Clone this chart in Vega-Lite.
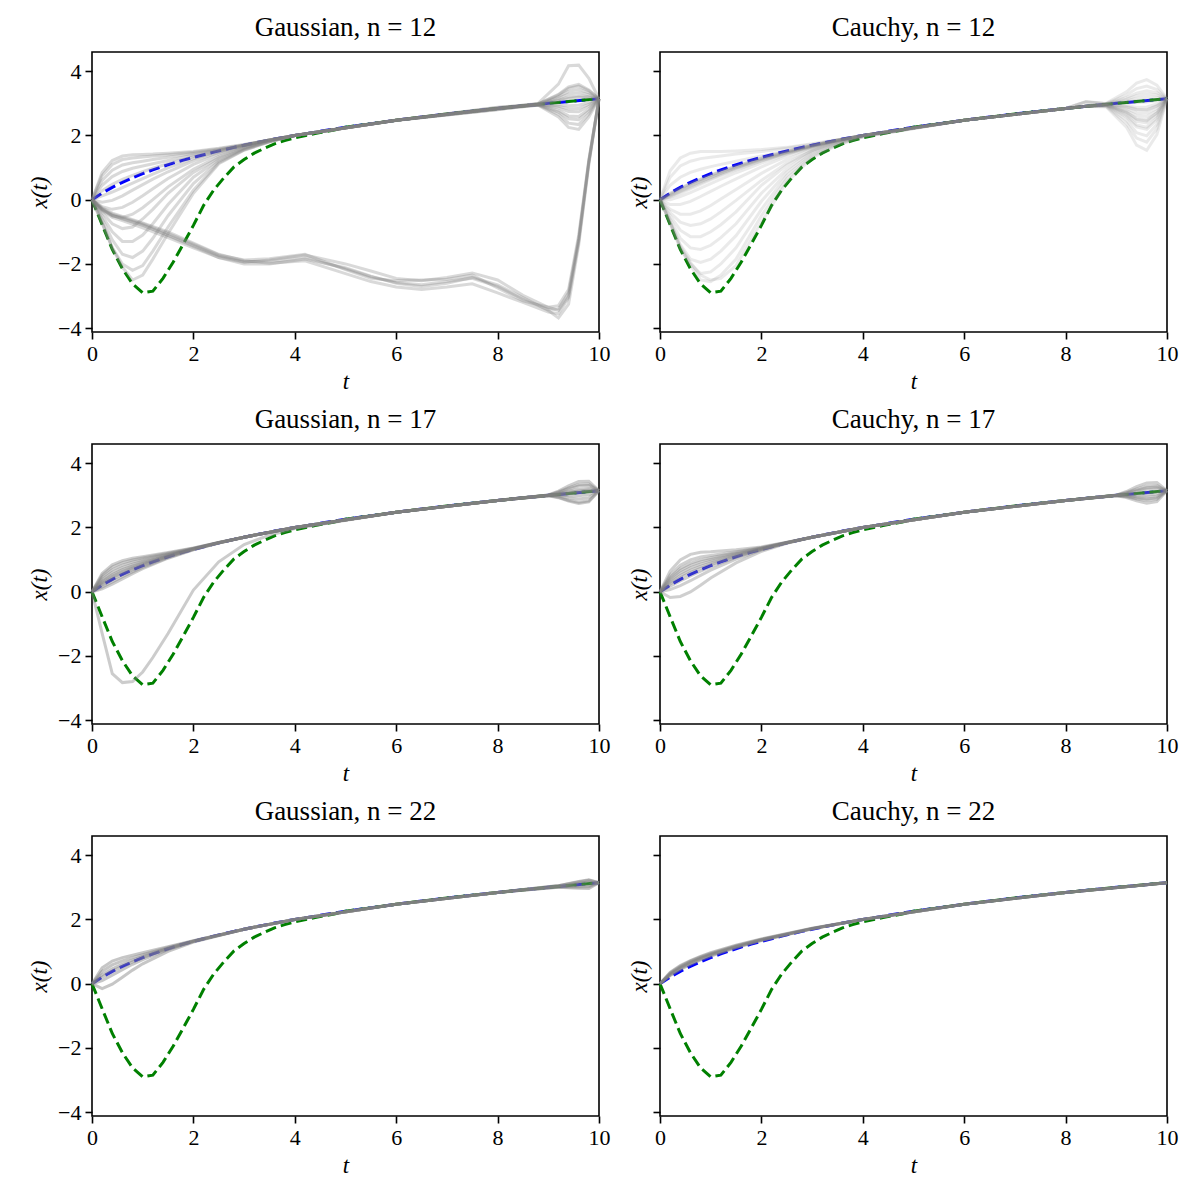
{
  "$schema": "https://vega.github.io/schema/vega-lite/v6.json",
  "padding": {"left": 27, "top": 13, "right": 10, "bottom": 10},
  "background": "white",
  "config": {
    "font": "Liberation Serif",
    "view": {"stroke": "black", "strokeWidth": 1.6},
    "axis": {"grid": false, "domain": false, "labelFont": "Liberation Serif", "labelFontSize": 22, "labelColor": "black", "labelFlush": false, "labelOverlap": false, "tickColor": "black", "tickSize": 7, "tickWidth": 1.6, "labelPadding": 4, "titleFont": "Liberation Serif", "titleFontSize": 23, "titleFontWeight": "normal", "titleFontStyle": "italic", "titleColor": "black", "titlePadding": 6},
    "title": {"font": "Liberation Serif", "fontSize": 27, "fontWeight": "normal", "color": "black", "baseline": "alphabetic", "offset": 10}
  },
  "datasets": {
    "ref": [
      {"c":"b","t":0,"x":0},{"c":"b","t":0.2,"x":0.206},{"c":"b","t":0.4,"x":0.385},{"c":"b","t":0.6,"x":0.542},{"c":"b","t":0.8,"x":0.683},{"c":"b","t":1,"x":0.811},{"c":"b","t":1.2,"x":0.928},{"c":"b","t":1.4,"x":1.037},{"c":"b","t":1.6,"x":1.138},{"c":"b","t":1.8,"x":1.232},{"c":"b","t":2,"x":1.32},{"c":"b","t":2.4,"x":1.483},{"c":"b","t":2.8,"x":1.63},{"c":"b","t":3.2,"x":1.764},{"c":"b","t":3.6,"x":1.888},{"c":"b","t":4,"x":2.001},{"c":"b","t":5,"x":2.256},{"c":"b","t":6,"x":2.476},{"c":"b","t":7,"x":2.67},{"c":"b","t":8,"x":2.843},{"c":"b","t":9,"x":3.001},{"c":"b","t":10,"x":3.145},
      {"c":"g","t":0,"x":0},{"c":"g","t":0.2,"x":-0.78},{"c":"g","t":0.4,"x":-1.55},{"c":"g","t":0.6,"x":-2.15},{"c":"g","t":0.8,"x":-2.62},{"c":"g","t":1,"x":-2.9},{"c":"g","t":1.2,"x":-2.85},{"c":"g","t":1.4,"x":-2.45},{"c":"g","t":1.6,"x":-1.95},{"c":"g","t":1.8,"x":-1.38},{"c":"g","t":2,"x":-0.8},{"c":"g","t":2.2,"x":-0.18},{"c":"g","t":2.4,"x":0.3},{"c":"g","t":2.6,"x":0.68},{"c":"g","t":2.8,"x":1.02},{"c":"g","t":3,"x":1.25},{"c":"g","t":3.2,"x":1.45},{"c":"g","t":3.4,"x":1.6},{"c":"g","t":3.6,"x":1.74},{"c":"g","t":3.8,"x":1.84},{"c":"g","t":4,"x":1.93},{"c":"g","t":4.4,"x":2.06},{"c":"g","t":4.8,"x":2.18},{"c":"g","t":5,"x":2.256},{"c":"g","t":6,"x":2.476},{"c":"g","t":7,"x":2.67},{"c":"g","t":8,"x":2.843},{"c":"g","t":9,"x":3.001},{"c":"g","t":10,"x":3.145}
    ],
    "A": [
      {"s":1,"t":0,"x":0},{"s":1,"t":0.2,"x":0.85},{"s":1,"t":0.4,"x":1.22},{"s":1,"t":0.6,"x":1.36},{"s":1,"t":0.8,"x":1.4},{"s":1,"t":1,"x":1.41},{"s":1,"t":1.2,"x":1.42},{"s":1,"t":1.5,"x":1.45},{"s":1,"t":2,"x":1.5},{"s":1,"t":2.5,"x":1.6},{"s":1,"t":3,"x":1.72},{"s":1,"t":3.5,"x":1.86},{"s":1,"t":4,"x":2.0},{"s":1,"t":6,"x":2.48},{"s":1,"t":8,"x":2.86},{"s":1,"t":8.8,"x":3.0},{"s":1,"t":9.2,"x":3.6},{"s":1,"t":9.4,"x":4.17},{"s":1,"t":9.6,"x":4.19},{"s":1,"t":9.8,"x":3.78},{"s":1,"t":10,"x":3.145},
      {"s":2,"t":0,"x":0},{"s":2,"t":0.2,"x":0.75},{"s":2,"t":0.4,"x":1.1},{"s":2,"t":0.6,"x":1.25},{"s":2,"t":0.8,"x":1.3},{"s":2,"t":1,"x":1.33},{"s":2,"t":1.2,"x":1.36},{"s":2,"t":1.5,"x":1.4},{"s":2,"t":2,"x":1.48},{"s":2,"t":2.5,"x":1.58},{"s":2,"t":3,"x":1.71},{"s":2,"t":3.5,"x":1.86},{"s":2,"t":4,"x":2.0},{"s":2,"t":6,"x":2.47},{"s":2,"t":8,"x":2.82},{"s":2,"t":8.8,"x":2.94},{"s":2,"t":9.2,"x":2.58},{"s":2,"t":9.4,"x":2.25},{"s":2,"t":9.6,"x":2.19},{"s":2,"t":9.8,"x":2.58},{"s":2,"t":10,"x":3.145},
      {"s":3,"t":0,"x":0},{"s":3,"t":0.2,"x":0.6},{"s":3,"t":0.4,"x":0.92},{"s":3,"t":0.6,"x":1.08},{"s":3,"t":0.8,"x":1.15},{"s":3,"t":1,"x":1.2},{"s":3,"t":1.2,"x":1.25},{"s":3,"t":1.5,"x":1.32},{"s":3,"t":2,"x":1.44},{"s":3,"t":2.5,"x":1.56},{"s":3,"t":3,"x":1.7},{"s":3,"t":3.5,"x":1.86},{"s":3,"t":4,"x":2.0},{"s":3,"t":6,"x":2.476},{"s":3,"t":8,"x":2.8},{"s":3,"t":8.8,"x":2.985},{"s":3,"t":9.2,"x":3.26},{"s":3,"t":9.4,"x":3.465},{"s":3,"t":9.6,"x":3.54},{"s":3,"t":9.8,"x":3.39},{"s":3,"t":10,"x":3.145},
      {"s":4,"t":0,"x":0},{"s":4,"t":0.2,"x":0.45},{"s":4,"t":0.4,"x":0.72},{"s":4,"t":0.6,"x":0.88},{"s":4,"t":0.8,"x":0.98},{"s":4,"t":1,"x":1.05},{"s":4,"t":1.2,"x":1.12},{"s":4,"t":1.5,"x":1.22},{"s":4,"t":2,"x":1.39},{"s":4,"t":2.5,"x":1.54},{"s":4,"t":3,"x":1.7},{"s":4,"t":3.5,"x":1.86},{"s":4,"t":4,"x":2.0},{"s":4,"t":6,"x":2.476},{"s":4,"t":8,"x":2.843},{"s":4,"t":8.8,"x":2.955},{"s":4,"t":9.2,"x":2.78},{"s":4,"t":9.4,"x":2.61},{"s":4,"t":9.6,"x":2.59},{"s":4,"t":9.8,"x":2.82},{"s":4,"t":10,"x":3.145},
      {"s":5,"t":0,"x":0},{"s":5,"t":0.2,"x":0.28},{"s":5,"t":0.4,"x":0.48},{"s":5,"t":0.6,"x":0.63},{"s":5,"t":0.8,"x":0.76},{"s":5,"t":1,"x":0.87},{"s":5,"t":1.2,"x":0.98},{"s":5,"t":1.5,"x":1.12},{"s":5,"t":2,"x":1.34},{"s":5,"t":2.5,"x":1.52},{"s":5,"t":3,"x":1.7},{"s":5,"t":3.5,"x":1.86},{"s":5,"t":4,"x":2.0},{"s":5,"t":6,"x":2.476},{"s":5,"t":8,"x":2.88},{"s":5,"t":8.8,"x":2.98},{"s":5,"t":9.2,"x":3.16},{"s":5,"t":9.4,"x":3.285},{"s":5,"t":9.6,"x":3.34},{"s":5,"t":9.8,"x":3.27},{"s":5,"t":10,"x":3.145},
      {"s":6,"t":0,"x":0},{"s":6,"t":0.2,"x":0.12},{"s":6,"t":0.4,"x":0.24},{"s":6,"t":0.6,"x":0.38},{"s":6,"t":0.8,"x":0.52},{"s":6,"t":1,"x":0.66},{"s":6,"t":1.2,"x":0.8},{"s":6,"t":1.5,"x":0.99},{"s":6,"t":2,"x":1.28},{"s":6,"t":2.5,"x":1.5},{"s":6,"t":3,"x":1.69},{"s":6,"t":3.5,"x":1.86},{"s":6,"t":4,"x":2.0},{"s":6,"t":6,"x":2.476},{"s":6,"t":8,"x":2.843},{"s":6,"t":8.8,"x":2.96},{"s":6,"t":9.2,"x":2.91},{"s":6,"t":9.4,"x":2.835},{"s":6,"t":9.6,"x":2.84},{"s":6,"t":9.8,"x":2.97},{"s":6,"t":10,"x":3.145},
      {"s":7,"t":0,"x":0},{"s":7,"t":0.2,"x":-0.08},{"s":7,"t":0.4,"x":-0.02},{"s":7,"t":0.6,"x":0.12},{"s":7,"t":0.8,"x":0.3},{"s":7,"t":1,"x":0.47},{"s":7,"t":1.2,"x":0.64},{"s":7,"t":1.5,"x":0.87},{"s":7,"t":2,"x":1.21},{"s":7,"t":2.5,"x":1.47},{"s":7,"t":3,"x":1.68},{"s":7,"t":3.5,"x":1.85},{"s":7,"t":4,"x":2.0},{"s":7,"t":6,"x":2.476},{"s":7,"t":8,"x":2.843},{"s":7,"t":8.8,"x":2.975},{"s":7,"t":9.2,"x":3.11},{"s":7,"t":9.4,"x":3.195},{"s":7,"t":9.6,"x":3.24},{"s":7,"t":9.8,"x":3.21},{"s":7,"t":10,"x":3.145},
      {"s":8,"t":0,"x":0},{"s":8,"t":0.2,"x":-0.22},{"s":8,"t":0.4,"x":-0.3},{"s":8,"t":0.6,"x":-0.24},{"s":8,"t":0.8,"x":-0.08},{"s":8,"t":1,"x":0.12},{"s":8,"t":1.2,"x":0.34},{"s":8,"t":1.5,"x":0.66},{"s":8,"t":2,"x":1.1},{"s":8,"t":2.5,"x":1.42},{"s":8,"t":3,"x":1.66},{"s":8,"t":3.5,"x":1.85},{"s":8,"t":4,"x":2.0},{"s":8,"t":6,"x":2.476},{"s":8,"t":8,"x":2.81},{"s":8,"t":8.8,"x":2.95},{"s":8,"t":9.2,"x":2.73},{"s":8,"t":9.4,"x":2.52},{"s":8,"t":9.6,"x":2.49},{"s":8,"t":9.8,"x":2.76},{"s":8,"t":10,"x":3.145},
      {"s":9,"t":0,"x":0},{"s":9,"t":0.2,"x":-0.3},{"s":9,"t":0.4,"x":-0.5},{"s":9,"t":0.6,"x":-0.55},{"s":9,"t":0.8,"x":-0.45},{"s":9,"t":1,"x":-0.25},{"s":9,"t":1.2,"x":0.0},{"s":9,"t":1.5,"x":0.4},{"s":9,"t":2,"x":0.95},{"s":9,"t":2.5,"x":1.35},{"s":9,"t":3,"x":1.63},{"s":9,"t":3.5,"x":1.84},{"s":9,"t":4,"x":2.0},{"s":9,"t":6,"x":2.476},{"s":9,"t":8,"x":2.843},{"s":9,"t":8.8,"x":2.98},{"s":9,"t":9.2,"x":3.21},{"s":9,"t":9.4,"x":3.375},{"s":9,"t":9.6,"x":3.44},{"s":9,"t":9.8,"x":3.33},{"s":9,"t":10,"x":3.145},
      {"s":10,"t":0,"x":0},{"s":10,"t":0.2,"x":-0.4},{"s":10,"t":0.4,"x":-0.75},{"s":10,"t":0.6,"x":-0.9},{"s":10,"t":0.8,"x":-0.85},{"s":10,"t":1,"x":-0.6},{"s":10,"t":1.2,"x":-0.3},{"s":10,"t":1.5,"x":0.2},{"s":10,"t":2,"x":0.85},{"s":10,"t":2.5,"x":1.3},{"s":10,"t":3,"x":1.61},{"s":10,"t":3.5,"x":1.83},{"s":10,"t":4,"x":2.0},{"s":10,"t":6,"x":2.476},{"s":10,"t":8,"x":2.87},{"s":10,"t":8.8,"x":2.95},{"s":10,"t":9.2,"x":2.66},{"s":10,"t":9.4,"x":2.385},{"s":10,"t":9.6,"x":2.34},{"s":10,"t":9.8,"x":2.67},{"s":10,"t":10,"x":3.145},
      {"s":11,"t":0,"x":0},{"s":11,"t":0.2,"x":-0.5},{"s":11,"t":0.4,"x":-1.0},{"s":11,"t":0.6,"x":-1.3},{"s":11,"t":0.8,"x":-1.3},{"s":11,"t":1,"x":-1.1},{"s":11,"t":1.2,"x":-0.75},{"s":11,"t":1.5,"x":-0.15},{"s":11,"t":2,"x":0.7},{"s":11,"t":2.5,"x":1.25},{"s":11,"t":3,"x":1.59},{"s":11,"t":3.5,"x":1.82},{"s":11,"t":4,"x":2.0},{"s":11,"t":6,"x":2.476},{"s":11,"t":8,"x":2.843},{"s":11,"t":8.8,"x":2.974},{"s":11,"t":9.2,"x":3.08},{"s":11,"t":9.4,"x":3.15},{"s":11,"t":9.6,"x":3.19},{"s":11,"t":9.8,"x":3.18},{"s":11,"t":10,"x":3.145},
      {"s":12,"t":0,"x":0},{"s":12,"t":0.2,"x":-0.6},{"s":12,"t":0.4,"x":-1.25},{"s":12,"t":0.6,"x":-1.7},{"s":12,"t":0.8,"x":-1.8},{"s":12,"t":1,"x":-1.6},{"s":12,"t":1.2,"x":-1.2},{"s":12,"t":1.5,"x":-0.5},{"s":12,"t":2,"x":0.5},{"s":12,"t":2.5,"x":1.2},{"s":12,"t":3,"x":1.57},{"s":12,"t":3.5,"x":1.81},{"s":12,"t":4,"x":2.0},{"s":12,"t":6,"x":2.476},{"s":12,"t":8,"x":2.843},{"s":12,"t":8.8,"x":2.96},{"s":12,"t":9.2,"x":2.86},{"s":12,"t":9.4,"x":2.745},{"s":12,"t":9.6,"x":2.74},{"s":12,"t":9.8,"x":2.91},{"s":12,"t":10,"x":3.145},
      {"s":13,"t":0,"x":0},{"s":13,"t":0.2,"x":-0.7},{"s":13,"t":0.4,"x":-1.5},{"s":13,"t":0.6,"x":-2.0},{"s":13,"t":0.8,"x":-2.2},{"s":13,"t":1,"x":-2.05},{"s":13,"t":1.2,"x":-1.6},{"s":13,"t":1.5,"x":-0.85},{"s":13,"t":2,"x":0.3},{"s":13,"t":2.5,"x":1.15},{"s":13,"t":3,"x":1.55},{"s":13,"t":3.5,"x":1.8},{"s":13,"t":4,"x":2.0},{"s":13,"t":6,"x":2.476},{"s":13,"t":8,"x":2.843},{"s":13,"t":8.8,"x":2.986},{"s":13,"t":9.2,"x":3.28},{"s":13,"t":9.4,"x":3.51},{"s":13,"t":9.6,"x":3.59},{"s":13,"t":9.8,"x":3.42},{"s":13,"t":10,"x":3.145},
      {"s":14,"t":0,"x":0},{"s":14,"t":0.2,"x":-0.75},{"s":14,"t":0.4,"x":-1.5},{"s":14,"t":0.6,"x":-2.1},{"s":14,"t":0.8,"x":-2.5},{"s":14,"t":1,"x":-2.35},{"s":14,"t":1.2,"x":-1.85},{"s":14,"t":1.5,"x":-1.05},{"s":14,"t":2,"x":0.2},{"s":14,"t":2.5,"x":1.12},{"s":14,"t":3,"x":1.54},{"s":14,"t":3.5,"x":1.8},{"s":14,"t":4,"x":2.0},{"s":14,"t":6,"x":2.476},{"s":14,"t":8,"x":2.843},{"s":14,"t":8.8,"x":2.967},{"s":14,"t":9.2,"x":2.96},{"s":14,"t":9.4,"x":2.925},{"s":14,"t":9.6,"x":2.94},{"s":14,"t":9.8,"x":3.03},{"s":14,"t":10,"x":3.145},
      {"s":21,"t":0,"x":0},{"s":21,"t":0.2,"x":-0.3},{"s":21,"t":0.4,"x":-0.48},{"s":21,"t":0.6,"x":-0.6},{"s":21,"t":1,"x":-0.8},{"s":21,"t":1.5,"x":-1.1},{"s":21,"t":2,"x":-1.42},{"s":21,"t":2.5,"x":-1.75},{"s":21,"t":3,"x":-1.93},{"s":21,"t":3.5,"x":-1.92},{"s":21,"t":4.2,"x":-1.8},{"s":21,"t":5,"x":-2.15},{"s":21,"t":5.5,"x":-2.4},{"s":21,"t":6,"x":-2.58},{"s":21,"t":6.5,"x":-2.65},{"s":21,"t":7,"x":-2.55},{"s":21,"t":7.5,"x":-2.45},{"s":21,"t":8,"x":-2.7},{"s":21,"t":8.5,"x":-3.1},{"s":21,"t":9,"x":-3.42},{"s":21,"t":9.2,"x":-3.4},{"s":21,"t":9.4,"x":-2.9},{"s":21,"t":9.6,"x":-1.2},{"s":21,"t":9.8,"x":1.2},{"s":21,"t":10,"x":3.145},
      {"s":22,"t":0,"x":0},{"s":22,"t":0.2,"x":-0.35},{"s":22,"t":0.4,"x":-0.55},{"s":22,"t":0.6,"x":-0.65},{"s":22,"t":1,"x":-0.88},{"s":22,"t":1.5,"x":-1.18},{"s":22,"t":2,"x":-1.5},{"s":22,"t":2.5,"x":-1.8},{"s":22,"t":3,"x":-1.95},{"s":22,"t":3.5,"x":-1.88},{"s":22,"t":4.2,"x":-1.72},{"s":22,"t":5,"x":-2.0},{"s":22,"t":5.5,"x":-2.22},{"s":22,"t":6,"x":-2.45},{"s":22,"t":6.5,"x":-2.52},{"s":22,"t":7,"x":-2.42},{"s":22,"t":7.5,"x":-2.28},{"s":22,"t":8,"x":-2.5},{"s":22,"t":8.5,"x":-2.98},{"s":22,"t":9,"x":-3.35},{"s":22,"t":9.2,"x":-3.45},{"s":22,"t":9.4,"x":-3.0},{"s":22,"t":9.6,"x":-1.3},{"s":22,"t":9.8,"x":1.15},{"s":22,"t":10,"x":3.145},
      {"s":23,"t":0,"x":0},{"s":23,"t":0.2,"x":-0.25},{"s":23,"t":0.4,"x":-0.42},{"s":23,"t":0.6,"x":-0.52},{"s":23,"t":1,"x":-0.72},{"s":23,"t":1.5,"x":-1.0},{"s":23,"t":2,"x":-1.35},{"s":23,"t":2.5,"x":-1.7},{"s":23,"t":3,"x":-1.9},{"s":23,"t":3.5,"x":-1.98},{"s":23,"t":4.2,"x":-1.9},{"s":23,"t":5,"x":-2.3},{"s":23,"t":5.5,"x":-2.55},{"s":23,"t":6,"x":-2.72},{"s":23,"t":6.5,"x":-2.8},{"s":23,"t":7,"x":-2.72},{"s":23,"t":7.5,"x":-2.62},{"s":23,"t":8,"x":-2.9},{"s":23,"t":8.5,"x":-3.2},{"s":23,"t":9,"x":-3.5},{"s":23,"t":9.2,"x":-3.55},{"s":23,"t":9.4,"x":-3.05},{"s":23,"t":9.6,"x":-1.25},{"s":23,"t":9.8,"x":1.2},{"s":23,"t":10,"x":3.145},
      {"s":24,"t":0,"x":0},{"s":24,"t":0.2,"x":-0.32},{"s":24,"t":0.4,"x":-0.5},{"s":24,"t":0.6,"x":-0.58},{"s":24,"t":1,"x":-0.78},{"s":24,"t":1.5,"x":-1.12},{"s":24,"t":2,"x":-1.45},{"s":24,"t":2.5,"x":-1.8},{"s":24,"t":3,"x":-2.0},{"s":24,"t":3.5,"x":-2.0},{"s":24,"t":4.2,"x":-1.85},{"s":24,"t":5,"x":-2.12},{"s":24,"t":5.5,"x":-2.38},{"s":24,"t":6,"x":-2.6},{"s":24,"t":6.5,"x":-2.7},{"s":24,"t":7,"x":-2.6},{"s":24,"t":7.5,"x":-2.42},{"s":24,"t":8,"x":-2.65},{"s":24,"t":8.5,"x":-3.05},{"s":24,"t":9,"x":-3.45},{"s":24,"t":9.2,"x":-3.68},{"s":24,"t":9.4,"x":-3.25},{"s":24,"t":9.6,"x":-1.4},{"s":24,"t":9.8,"x":1.1},{"s":24,"t":10,"x":3.145},
      {"s":25,"t":0,"x":0},{"s":25,"t":0.2,"x":-0.28},{"s":25,"t":0.4,"x":-0.45},{"s":25,"t":0.6,"x":-0.55},{"s":25,"t":1,"x":-0.75},{"s":25,"t":1.5,"x":-1.05},{"s":25,"t":2,"x":-1.38},{"s":25,"t":2.5,"x":-1.72},{"s":25,"t":3,"x":-1.88},{"s":25,"t":3.5,"x":-1.84},{"s":25,"t":4.2,"x":-1.7},{"s":25,"t":5,"x":-2.18},{"s":25,"t":5.5,"x":-2.45},{"s":25,"t":6,"x":-2.52},{"s":25,"t":6.5,"x":-2.5},{"s":25,"t":7,"x":-2.48},{"s":25,"t":7.5,"x":-2.35},{"s":25,"t":8,"x":-2.75},{"s":25,"t":8.5,"x":-3.15},{"s":25,"t":9,"x":-3.35},{"s":25,"t":9.2,"x":-3.3},{"s":25,"t":9.4,"x":-2.8},{"s":25,"t":9.6,"x":-1.1},{"s":25,"t":9.8,"x":1.25},{"s":25,"t":10,"x":3.145}
    ],
    "B": [
      {"s":1,"t":0,"x":0},{"s":1,"t":0.2,"x":0.9},{"s":1,"t":0.4,"x":1.3},{"s":1,"t":0.6,"x":1.45},{"s":1,"t":0.8,"x":1.5},{"s":1,"t":1,"x":1.5},{"s":1,"t":1.2,"x":1.5},{"s":1,"t":1.5,"x":1.52},{"s":1,"t":2,"x":1.56},{"s":1,"t":2.5,"x":1.63},{"s":1,"t":3,"x":1.74},{"s":1,"t":3.5,"x":1.87},{"s":1,"t":4,"x":2.0},{"s":1,"t":6,"x":2.476},{"s":1,"t":8,"x":2.843},{"s":1,"t":8.4,"x":3.06},{"s":1,"t":8.8,"x":3.0},{"s":1,"t":9.2,"x":3.36},{"s":1,"t":9.4,"x":3.63},{"s":1,"t":9.6,"x":3.74},{"s":1,"t":9.8,"x":3.57},{"s":1,"t":10,"x":3.145},
      {"s":2,"t":0,"x":0},{"s":2,"t":0.2,"x":0.7},{"s":2,"t":0.4,"x":1.05},{"s":2,"t":0.6,"x":1.2},{"s":2,"t":0.8,"x":1.28},{"s":2,"t":1,"x":1.32},{"s":2,"t":1.2,"x":1.36},{"s":2,"t":1.5,"x":1.42},{"s":2,"t":2,"x":1.5},{"s":2,"t":2.5,"x":1.6},{"s":2,"t":3,"x":1.72},{"s":2,"t":3.5,"x":1.86},{"s":2,"t":4,"x":2.0},{"s":2,"t":6,"x":2.476},{"s":2,"t":8,"x":2.843},{"s":2,"t":8.4,"x":2.909},{"s":2,"t":8.8,"x":2.89},{"s":2,"t":9.2,"x":2.26},{"s":2,"t":9.4,"x":1.7},{"s":2,"t":9.6,"x":1.54},{"s":2,"t":9.8,"x":2.03},{"s":2,"t":10,"x":3.145},
      {"s":3,"t":0,"x":0},{"s":3,"t":0.2,"x":0.45},{"s":3,"t":0.4,"x":0.7},{"s":3,"t":0.6,"x":0.85},{"s":3,"t":0.8,"x":0.95},{"s":3,"t":1,"x":1.03},{"s":3,"t":1.2,"x":1.1},{"s":3,"t":1.5,"x":1.2},{"s":3,"t":2,"x":1.36},{"s":3,"t":2.5,"x":1.52},{"s":3,"t":3,"x":1.69},{"s":3,"t":3.5,"x":1.85},{"s":3,"t":4,"x":2.0},{"s":3,"t":6,"x":2.476},{"s":3,"t":8,"x":2.843},{"s":3,"t":8.4,"x":3.05},{"s":3,"t":8.8,"x":2.99},{"s":3,"t":9.2,"x":3.18},{"s":3,"t":9.4,"x":3.32},{"s":3,"t":9.6,"x":3.39},{"s":3,"t":9.8,"x":3.33},{"s":3,"t":10,"x":3.145},
      {"s":4,"t":0,"x":0},{"s":4,"t":0.2,"x":0.2},{"s":4,"t":0.4,"x":0.36},{"s":4,"t":0.6,"x":0.5},{"s":4,"t":0.8,"x":0.63},{"s":4,"t":1,"x":0.75},{"s":4,"t":1.2,"x":0.87},{"s":4,"t":1.5,"x":1.03},{"s":4,"t":2,"x":1.27},{"s":4,"t":2.5,"x":1.48},{"s":4,"t":3,"x":1.67},{"s":4,"t":3.5,"x":1.85},{"s":4,"t":4,"x":2.0},{"s":4,"t":6,"x":2.476},{"s":4,"t":8,"x":2.843},{"s":4,"t":8.4,"x":2.909},{"s":4,"t":8.8,"x":2.93},{"s":4,"t":9.2,"x":2.58},{"s":4,"t":9.4,"x":2.27},{"s":4,"t":9.6,"x":2.19},{"s":4,"t":9.8,"x":2.49},{"s":4,"t":10,"x":3.145},
      {"s":5,"t":0,"x":0},{"s":5,"t":0.2,"x":0.15},{"s":5,"t":0.4,"x":0.3},{"s":5,"t":0.6,"x":0.44},{"s":5,"t":0.8,"x":0.57},{"s":5,"t":1,"x":0.7},{"s":5,"t":1.2,"x":0.82},{"s":5,"t":1.5,"x":0.99},{"s":5,"t":2,"x":1.24},{"s":5,"t":2.5,"x":1.46},{"s":5,"t":3,"x":1.66},{"s":5,"t":3.5,"x":1.84},{"s":5,"t":4,"x":2.0},{"s":5,"t":6,"x":2.476},{"s":5,"t":8,"x":2.843},{"s":5,"t":8.4,"x":2.909},{"s":5,"t":8.8,"x":2.95},{"s":5,"t":9.2,"x":2.78},{"s":5,"t":9.4,"x":2.62},{"s":5,"t":9.6,"x":2.59},{"s":5,"t":9.8,"x":2.77},{"s":5,"t":10,"x":3.145},
      {"s":6,"t":0,"x":0},{"s":6,"t":0.2,"x":0.1},{"s":6,"t":0.4,"x":0.24},{"s":6,"t":0.6,"x":0.38},{"s":6,"t":0.8,"x":0.52},{"s":6,"t":1,"x":0.65},{"s":6,"t":1.2,"x":0.78},{"s":6,"t":1.5,"x":0.96},{"s":6,"t":2,"x":1.22},{"s":6,"t":2.5,"x":1.45},{"s":6,"t":3,"x":1.66},{"s":6,"t":3.5,"x":1.84},{"s":6,"t":4,"x":2.0},{"s":6,"t":6,"x":2.476},{"s":6,"t":8,"x":2.843},{"s":6,"t":8.4,"x":2.909},{"s":6,"t":8.8,"x":2.98},{"s":6,"t":9.2,"x":3.08},{"s":6,"t":9.4,"x":3.15},{"s":6,"t":9.6,"x":3.19},{"s":6,"t":9.8,"x":3.19},{"s":6,"t":10,"x":3.145},
      {"s":7,"t":0,"x":0},{"s":7,"t":0.2,"x":0.0},{"s":7,"t":0.4,"x":0.1},{"s":7,"t":0.6,"x":0.22},{"s":7,"t":0.8,"x":0.36},{"s":7,"t":1,"x":0.5},{"s":7,"t":1.2,"x":0.64},{"s":7,"t":1.5,"x":0.84},{"s":7,"t":2,"x":1.14},{"s":7,"t":2.5,"x":1.41},{"s":7,"t":3,"x":1.64},{"s":7,"t":3.5,"x":1.84},{"s":7,"t":4,"x":2.0},{"s":7,"t":6,"x":2.476},{"s":7,"t":8,"x":2.843},{"s":7,"t":8.4,"x":2.909},{"s":7,"t":8.8,"x":2.92},{"s":7,"t":9.2,"x":2.48},{"s":7,"t":9.4,"x":2.09},{"s":7,"t":9.6,"x":1.99},{"s":7,"t":9.8,"x":2.35},{"s":7,"t":10,"x":3.145},
      {"s":8,"t":0,"x":0},{"s":8,"t":0.2,"x":-0.15},{"s":8,"t":0.4,"x":-0.15},{"s":8,"t":0.6,"x":-0.05},{"s":8,"t":0.8,"x":0.1},{"s":8,"t":1,"x":0.26},{"s":8,"t":1.2,"x":0.42},{"s":8,"t":1.5,"x":0.65},{"s":8,"t":2,"x":1.02},{"s":8,"t":2.5,"x":1.35},{"s":8,"t":3,"x":1.62},{"s":8,"t":3.5,"x":1.83},{"s":8,"t":4,"x":2.0},{"s":8,"t":6,"x":2.476},{"s":8,"t":8,"x":2.843},{"s":8,"t":8.4,"x":2.909},{"s":8,"t":8.8,"x":2.96},{"s":8,"t":9.2,"x":2.88},{"s":8,"t":9.4,"x":2.8},{"s":8,"t":9.6,"x":2.79},{"s":8,"t":9.8,"x":2.91},{"s":8,"t":10,"x":3.145},
      {"s":9,"t":0,"x":0},{"s":9,"t":0.2,"x":-0.3},{"s":9,"t":0.4,"x":-0.45},{"s":9,"t":0.6,"x":-0.45},{"s":9,"t":0.8,"x":-0.35},{"s":9,"t":1,"x":-0.18},{"s":9,"t":1.2,"x":0.02},{"s":9,"t":1.5,"x":0.32},{"s":9,"t":2,"x":0.82},{"s":9,"t":2.5,"x":1.25},{"s":9,"t":3,"x":1.58},{"s":9,"t":3.5,"x":1.82},{"s":9,"t":4,"x":2.0},{"s":9,"t":6,"x":2.476},{"s":9,"t":8,"x":2.843},{"s":9,"t":8.4,"x":3.04},{"s":9,"t":8.8,"x":2.99},{"s":9,"t":9.2,"x":3.26},{"s":9,"t":9.4,"x":3.46},{"s":9,"t":9.6,"x":3.54},{"s":9,"t":9.8,"x":3.43},{"s":9,"t":10,"x":3.145},
      {"s":10,"t":0,"x":0},{"s":10,"t":0.2,"x":-0.4},{"s":10,"t":0.4,"x":-0.7},{"s":10,"t":0.6,"x":-0.8},{"s":10,"t":0.8,"x":-0.75},{"s":10,"t":1,"x":-0.6},{"s":10,"t":1.2,"x":-0.38},{"s":10,"t":1.5,"x":-0.02},{"s":10,"t":2,"x":0.6},{"s":10,"t":2.5,"x":1.14},{"s":10,"t":3,"x":1.53},{"s":10,"t":3.5,"x":1.8},{"s":10,"t":4,"x":2.0},{"s":10,"t":6,"x":2.476},{"s":10,"t":8,"x":2.843},{"s":10,"t":8.4,"x":2.909},{"s":10,"t":8.8,"x":2.94},{"s":10,"t":9.2,"x":2.68},{"s":10,"t":9.4,"x":2.44},{"s":10,"t":9.6,"x":2.39},{"s":10,"t":9.8,"x":2.63},{"s":10,"t":10,"x":3.145},
      {"s":11,"t":0,"x":0},{"s":11,"t":0.2,"x":-0.5},{"s":11,"t":0.4,"x":-0.95},{"s":11,"t":0.6,"x":-1.15},{"s":11,"t":0.8,"x":-1.15},{"s":11,"t":1,"x":-1.0},{"s":11,"t":1.2,"x":-0.78},{"s":11,"t":1.5,"x":-0.38},{"s":11,"t":2,"x":0.45},{"s":11,"t":2.5,"x":1.07},{"s":11,"t":3,"x":1.54},{"s":11,"t":3.5,"x":1.8},{"s":11,"t":4,"x":2.0},{"s":11,"t":6,"x":2.476},{"s":11,"t":8,"x":2.843},{"s":11,"t":8.4,"x":2.909},{"s":11,"t":8.8,"x":2.96},{"s":11,"t":9.2,"x":2.93},{"s":11,"t":9.4,"x":2.88},{"s":11,"t":9.6,"x":2.89},{"s":11,"t":9.8,"x":2.98},{"s":11,"t":10,"x":3.145},
      {"s":12,"t":0,"x":0},{"s":12,"t":0.2,"x":-0.6},{"s":12,"t":0.4,"x":-1.2},{"s":12,"t":0.6,"x":-1.5},{"s":12,"t":0.8,"x":-1.55},{"s":12,"t":1,"x":-1.42},{"s":12,"t":1.2,"x":-1.18},{"s":12,"t":1.5,"x":-0.75},{"s":12,"t":2,"x":0.2},{"s":12,"t":2.5,"x":0.95},{"s":12,"t":3,"x":1.5},{"s":12,"t":3.5,"x":1.78},{"s":12,"t":4,"x":1.99},{"s":12,"t":6,"x":2.476},{"s":12,"t":8,"x":2.843},{"s":12,"t":8.4,"x":2.909},{"s":12,"t":8.8,"x":2.91},{"s":12,"t":9.2,"x":2.38},{"s":12,"t":9.4,"x":1.92},{"s":12,"t":9.6,"x":1.79},{"s":12,"t":9.8,"x":2.21},{"s":12,"t":10,"x":3.145},
      {"s":13,"t":0,"x":0},{"s":13,"t":0.2,"x":-0.68},{"s":13,"t":0.4,"x":-1.4},{"s":13,"t":0.6,"x":-1.85},{"s":13,"t":0.8,"x":-1.95},{"s":13,"t":1,"x":-1.85},{"s":13,"t":1.2,"x":-1.6},{"s":13,"t":1.5,"x":-1.12},{"s":13,"t":2,"x":-0.05},{"s":13,"t":2.5,"x":0.85},{"s":13,"t":3,"x":1.45},{"s":13,"t":3.5,"x":1.76},{"s":13,"t":4,"x":1.98},{"s":13,"t":6,"x":2.476},{"s":13,"t":8,"x":2.843},{"s":13,"t":8.4,"x":2.909},{"s":13,"t":8.8,"x":2.98},{"s":13,"t":9.2,"x":3.13},{"s":13,"t":9.4,"x":3.24},{"s":13,"t":9.6,"x":3.29},{"s":13,"t":9.8,"x":3.26},{"s":13,"t":10,"x":3.145},
      {"s":14,"t":0,"x":0},{"s":14,"t":0.2,"x":-0.74},{"s":14,"t":0.4,"x":-1.52},{"s":14,"t":0.6,"x":-2.0},{"s":14,"t":0.8,"x":-2.3},{"s":14,"t":1,"x":-2.25},{"s":14,"t":1.2,"x":-2.0},{"s":14,"t":1.5,"x":-1.5},{"s":14,"t":2,"x":-0.3},{"s":14,"t":2.5,"x":0.75},{"s":14,"t":3,"x":1.4},{"s":14,"t":3.5,"x":1.74},{"s":14,"t":4,"x":1.97},{"s":14,"t":6,"x":2.476},{"s":14,"t":8,"x":2.843},{"s":14,"t":8.4,"x":2.909},{"s":14,"t":8.8,"x":2.94},{"s":14,"t":9.2,"x":2.73},{"s":14,"t":9.4,"x":2.53},{"s":14,"t":9.6,"x":2.49},{"s":14,"t":9.8,"x":2.7},{"s":14,"t":10,"x":3.145},
      {"s":15,"t":0,"x":0},{"s":15,"t":0.2,"x":-0.74},{"s":15,"t":0.4,"x":-1.5},{"s":15,"t":0.6,"x":-2.05},{"s":15,"t":0.8,"x":-2.5},{"s":15,"t":1,"x":-2.55},{"s":15,"t":1.2,"x":-2.35},{"s":15,"t":1.5,"x":-1.85},{"s":15,"t":2,"x":-0.5},{"s":15,"t":2.5,"x":0.65},{"s":15,"t":3,"x":1.35},{"s":15,"t":3.5,"x":1.72},{"s":15,"t":4,"x":1.96},{"s":15,"t":6,"x":2.476},{"s":15,"t":8,"x":2.843},{"s":15,"t":8.4,"x":2.909},{"s":15,"t":8.8,"x":2.97},{"s":15,"t":9.2,"x":3.01},{"s":15,"t":9.4,"x":3.02},{"s":15,"t":9.6,"x":3.04},{"s":15,"t":9.8,"x":3.08},{"s":15,"t":10,"x":3.145},
      {"s":16,"t":0,"x":0},{"s":16,"t":0.2,"x":-0.7},{"s":16,"t":0.4,"x":-1.45},{"s":16,"t":0.6,"x":-1.95},{"s":16,"t":0.8,"x":-2.35},{"s":16,"t":1,"x":-2.5},{"s":16,"t":1.2,"x":-2.45},{"s":16,"t":1.5,"x":-2.05},{"s":16,"t":2,"x":-0.7},{"s":16,"t":2.5,"x":0.55},{"s":16,"t":3,"x":1.3},{"s":16,"t":3.5,"x":1.7},{"s":16,"t":4,"x":1.95},{"s":16,"t":6,"x":2.476},{"s":16,"t":8,"x":2.843},{"s":16,"t":8.4,"x":2.909},{"s":16,"t":8.8,"x":2.95},{"s":16,"t":9.2,"x":2.83},{"s":16,"t":9.4,"x":2.71},{"s":16,"t":9.6,"x":2.69},{"s":16,"t":9.8,"x":2.84},{"s":16,"t":10,"x":3.145},
      {"s":17,"t":0,"x":0},{"s":17,"t":0.2,"x":0.17},{"s":17,"t":0.4,"x":0.33},{"s":17,"t":0.6,"x":0.48},{"s":17,"t":0.8,"x":0.62},{"s":17,"t":1,"x":0.75},{"s":17,"t":1.2,"x":0.87},{"s":17,"t":1.5,"x":1.04},{"s":17,"t":2,"x":1.29},{"s":17,"t":2.5,"x":1.5},{"s":17,"t":3,"x":1.69},{"s":17,"t":3.5,"x":1.85},{"s":17,"t":4,"x":2.0},{"s":17,"t":6,"x":2.476},{"s":17,"t":8,"x":2.843},{"s":17,"t":8.4,"x":2.909},{"s":17,"t":8.8,"x":2.97},{"s":17,"t":9.2,"x":2.9},{"s":17,"t":9.4,"x":2.82},{"s":17,"t":9.6,"x":2.8},{"s":17,"t":9.8,"x":2.93},{"s":17,"t":10,"x":3.145},
      {"s":18,"t":0,"x":0},{"s":18,"t":0.2,"x":0.12},{"s":18,"t":0.4,"x":0.27},{"s":18,"t":0.6,"x":0.42},{"s":18,"t":0.8,"x":0.56},{"s":18,"t":1,"x":0.69},{"s":18,"t":1.2,"x":0.82},{"s":18,"t":1.5,"x":1.0},{"s":18,"t":2,"x":1.26},{"s":18,"t":2.5,"x":1.48},{"s":18,"t":3,"x":1.68},{"s":18,"t":3.5,"x":1.85},{"s":18,"t":4,"x":2.0},{"s":18,"t":6,"x":2.476},{"s":18,"t":8,"x":2.843},{"s":18,"t":8.4,"x":2.909},{"s":18,"t":8.8,"x":2.96},{"s":18,"t":9.2,"x":2.72},{"s":18,"t":9.4,"x":2.5},{"s":18,"t":9.6,"x":2.45},{"s":18,"t":9.8,"x":2.7},{"s":18,"t":10,"x":3.145},
      {"s":19,"t":0,"x":0},{"s":19,"t":0.2,"x":0.19},{"s":19,"t":0.4,"x":0.35},{"s":19,"t":0.6,"x":0.5},{"s":19,"t":0.8,"x":0.64},{"s":19,"t":1,"x":0.77},{"s":19,"t":1.2,"x":0.89},{"s":19,"t":1.5,"x":1.05},{"s":19,"t":2,"x":1.3},{"s":19,"t":2.5,"x":1.51},{"s":19,"t":3,"x":1.69},{"s":19,"t":3.5,"x":1.86},{"s":19,"t":4,"x":2.0},{"s":19,"t":6,"x":2.476},{"s":19,"t":8,"x":2.843},{"s":19,"t":8.4,"x":2.909},{"s":19,"t":8.8,"x":2.98},{"s":19,"t":9.2,"x":3.04},{"s":19,"t":9.4,"x":3.08},{"s":19,"t":9.6,"x":3.1},{"s":19,"t":9.8,"x":3.12},{"s":19,"t":10,"x":3.145},
      {"s":20,"t":0,"x":0},{"s":20,"t":0.2,"x":0.08},{"s":20,"t":0.4,"x":0.2},{"s":20,"t":0.6,"x":0.34},{"s":20,"t":0.8,"x":0.48},{"s":20,"t":1,"x":0.62},{"s":20,"t":1.2,"x":0.75},{"s":20,"t":1.5,"x":0.93},{"s":20,"t":2,"x":1.2},{"s":20,"t":2.5,"x":1.44},{"s":20,"t":3,"x":1.65},{"s":20,"t":3.5,"x":1.84},{"s":20,"t":4,"x":2.0},{"s":20,"t":6,"x":2.476},{"s":20,"t":8,"x":2.843},{"s":20,"t":8.4,"x":2.909},{"s":20,"t":8.8,"x":2.95},{"s":20,"t":9.2,"x":2.62},{"s":20,"t":9.4,"x":2.33},{"s":20,"t":9.6,"x":2.26},{"s":20,"t":9.8,"x":2.55},{"s":20,"t":10,"x":3.145}
    ],
    "C": [
      {"s":1,"t":0,"x":0},{"s":1,"t":0.2,"x":0.566},{"s":1,"t":0.4,"x":0.835},{"s":1,"t":0.6,"x":0.97},{"s":1,"t":0.8,"x":1.043},{"s":1,"t":1,"x":1.09},{"s":1,"t":1.5,"x":1.223},{"s":1,"t":2,"x":1.365},{"s":1,"t":2.5,"x":1.535},{"s":1,"t":3,"x":1.698},{"s":1,"t":4,"x":2.001},{"s":1,"t":6,"x":2.476},{"s":1,"t":8,"x":2.843},{"s":1,"t":9,"x":3.004},{"s":1,"t":9.2,"x":3.061},{"s":1,"t":9.4,"x":3.13},{"s":1,"t":9.6,"x":3.189},{"s":1,"t":9.8,"x":3.213},{"s":1,"t":10,"x":3.145},
      {"s":2,"t":0,"x":0},{"s":2,"t":0.2,"x":0.51},{"s":2,"t":0.4,"x":0.765},{"s":2,"t":0.6,"x":0.903},{"s":2,"t":0.8,"x":0.987},{"s":2,"t":1,"x":1.047},{"s":2,"t":1.5,"x":1.202},{"s":2,"t":2,"x":1.358},{"s":2,"t":2.5,"x":1.532},{"s":2,"t":3,"x":1.698},{"s":2,"t":4,"x":2.001},{"s":2,"t":6,"x":2.476},{"s":2,"t":8,"x":2.843},{"s":2,"t":9,"x":2.992},{"s":2,"t":9.2,"x":2.941},{"s":2,"t":9.4,"x":2.85},{"s":2,"t":9.6,"x":2.789},{"s":2,"t":9.8,"x":2.833},{"s":2,"t":10,"x":3.145},
      {"s":3,"t":0,"x":0},{"s":3,"t":0.2,"x":0.446},{"s":3,"t":0.4,"x":0.685},{"s":3,"t":0.6,"x":0.827},{"s":3,"t":0.8,"x":0.923},{"s":3,"t":1,"x":0.997},{"s":3,"t":1.5,"x":1.178},{"s":3,"t":2,"x":1.35},{"s":3,"t":2.5,"x":1.53},{"s":3,"t":3,"x":1.698},{"s":3,"t":4,"x":2.001},{"s":3,"t":6,"x":2.476},{"s":3,"t":8,"x":2.843},{"s":3,"t":9,"x":3.011},{"s":3,"t":9.2,"x":3.133},{"s":3,"t":9.4,"x":3.298},{"s":3,"t":9.6,"x":3.429},{"s":3,"t":9.8,"x":3.441},{"s":3,"t":10,"x":3.145},
      {"s":4,"t":0,"x":0},{"s":4,"t":0.2,"x":0.382},{"s":4,"t":0.4,"x":0.605},{"s":4,"t":0.6,"x":0.751},{"s":4,"t":0.8,"x":0.859},{"s":4,"t":1,"x":0.947},{"s":4,"t":1.5,"x":1.154},{"s":4,"t":2,"x":1.342},{"s":4,"t":2.5,"x":1.528},{"s":4,"t":3,"x":1.698},{"s":4,"t":4,"x":2.001},{"s":4,"t":6,"x":2.476},{"s":4,"t":8,"x":2.843},{"s":4,"t":9,"x":2.998},{"s":4,"t":9.2,"x":3.001},{"s":4,"t":9.4,"x":2.99},{"s":4,"t":9.6,"x":2.989},{"s":4,"t":9.8,"x":3.023},{"s":4,"t":10,"x":3.145},
      {"s":5,"t":0,"x":0},{"s":5,"t":0.2,"x":0.326},{"s":5,"t":0.4,"x":0.535},{"s":5,"t":0.6,"x":0.685},{"s":5,"t":0.8,"x":0.803},{"s":5,"t":1,"x":0.904},{"s":5,"t":1.5,"x":1.133},{"s":5,"t":2,"x":1.335},{"s":5,"t":2.5,"x":1.526},{"s":5,"t":3,"x":1.698},{"s":5,"t":4,"x":2.001},{"s":5,"t":6,"x":2.476},{"s":5,"t":8,"x":2.843},{"s":5,"t":9,"x":3.007},{"s":5,"t":9.2,"x":3.091},{"s":5,"t":9.4,"x":3.2},{"s":5,"t":9.6,"x":3.289},{"s":5,"t":9.8,"x":3.308},{"s":5,"t":10,"x":3.145},
      {"s":6,"t":0,"x":0},{"s":6,"t":0.2,"x":0.286},{"s":6,"t":0.4,"x":0.485},{"s":6,"t":0.6,"x":0.637},{"s":6,"t":0.8,"x":0.763},{"s":6,"t":1,"x":0.873},{"s":6,"t":1.5,"x":1.118},{"s":6,"t":2,"x":1.33},{"s":6,"t":2.5,"x":1.524},{"s":6,"t":3,"x":1.698},{"s":6,"t":4,"x":2.001},{"s":6,"t":6,"x":2.476},{"s":6,"t":8,"x":2.843},{"s":6,"t":9,"x":2.995},{"s":6,"t":9.2,"x":2.971},{"s":6,"t":9.4,"x":2.92},{"s":6,"t":9.6,"x":2.889},{"s":6,"t":9.8,"x":2.928},{"s":6,"t":10,"x":3.145},
      {"s":7,"t":0,"x":0},{"s":7,"t":0.2,"x":0.246},{"s":7,"t":0.4,"x":0.435},{"s":7,"t":0.6,"x":0.59},{"s":7,"t":0.8,"x":0.723},{"s":7,"t":1,"x":0.842},{"s":7,"t":1.5,"x":1.103},{"s":7,"t":2,"x":1.325},{"s":7,"t":2.5,"x":1.522},{"s":7,"t":3,"x":1.698},{"s":7,"t":4,"x":2.001},{"s":7,"t":6,"x":2.476},{"s":7,"t":8,"x":2.843},{"s":7,"t":9,"x":3.003},{"s":7,"t":9.2,"x":3.046},{"s":7,"t":9.4,"x":3.095},{"s":7,"t":9.6,"x":3.139},{"s":7,"t":9.8,"x":3.166},{"s":7,"t":10,"x":3.145},
      {"s":8,"t":0,"x":0},{"s":8,"t":0.2,"x":0.206},{"s":8,"t":0.4,"x":0.385},{"s":8,"t":0.6,"x":0.542},{"s":8,"t":0.8,"x":0.683},{"s":8,"t":1,"x":0.811},{"s":8,"t":1.5,"x":1.088},{"s":8,"t":2,"x":1.32},{"s":8,"t":2.5,"x":1.521},{"s":8,"t":3,"x":1.698},{"s":8,"t":4,"x":2.001},{"s":8,"t":6,"x":2.476},{"s":8,"t":8,"x":2.843},{"s":8,"t":9,"x":2.991},{"s":8,"t":9.2,"x":2.929},{"s":8,"t":9.4,"x":2.822},{"s":8,"t":9.6,"x":2.749},{"s":8,"t":9.8,"x":2.795},{"s":8,"t":10,"x":3.145},
      {"s":9,"t":0,"x":0},{"s":9,"t":0.2,"x":0.142},{"s":9,"t":0.4,"x":0.305},{"s":9,"t":0.6,"x":0.466},{"s":9,"t":0.8,"x":0.619},{"s":9,"t":1,"x":0.761},{"s":9,"t":1.5,"x":1.064},{"s":9,"t":2,"x":1.312},{"s":9,"t":2.5,"x":1.519},{"s":9,"t":3,"x":1.698},{"s":9,"t":4,"x":2.001},{"s":9,"t":6,"x":2.476},{"s":9,"t":8,"x":2.843},{"s":9,"t":9,"x":3.009},{"s":9,"t":9.2,"x":3.106},{"s":9,"t":9.4,"x":3.235},{"s":9,"t":9.6,"x":3.339},{"s":9,"t":9.8,"x":3.356},{"s":9,"t":10,"x":3.145},
      {"s":10,"t":0,"x":0},{"s":10,"t":0.2,"x":0.086},{"s":10,"t":0.4,"x":0.235},{"s":10,"t":0.6,"x":0.399},{"s":10,"t":0.8,"x":0.563},{"s":10,"t":1,"x":0.718},{"s":10,"t":1.5,"x":1.043},{"s":10,"t":2,"x":1.305},{"s":10,"t":2.5,"x":1.517},{"s":10,"t":3,"x":1.698},{"s":10,"t":4,"x":2.001},{"s":10,"t":6,"x":2.476},{"s":10,"t":8,"x":2.843},{"s":10,"t":9,"x":3.001},{"s":10,"t":9.2,"x":3.031},{"s":10,"t":9.4,"x":3.06},{"s":10,"t":9.6,"x":3.089},{"s":10,"t":9.8,"x":3.118},{"s":10,"t":10,"x":3.145},
      {"s":11,"t":0,"x":0},{"s":11,"t":0.2,"x":-1.3},{"s":11,"t":0.4,"x":-2.55},{"s":11,"t":0.6,"x":-2.83},{"s":11,"t":0.8,"x":-2.8},{"s":11,"t":1,"x":-2.5},{"s":11,"t":1.2,"x":-2.05},{"s":11,"t":1.5,"x":-1.3},{"s":11,"t":2,"x":0.05},{"s":11,"t":2.5,"x":0.93},{"s":11,"t":3,"x":1.47},{"s":11,"t":3.5,"x":1.76},{"s":11,"t":4,"x":1.97},{"s":11,"t":6,"x":2.476},{"s":11,"t":8,"x":2.843},{"s":11,"t":10,"x":3.145}
    ],
    "D": [
      {"s":1,"t":0,"x":0},{"s":1,"t":0.2,"x":0.64},{"s":1,"t":0.4,"x":0.986},{"s":1,"t":0.6,"x":1.162},{"s":1,"t":0.8,"x":1.229},{"s":1,"t":1,"x":1.245},{"s":1,"t":1.5,"x":1.305},{"s":1,"t":2,"x":1.394},{"s":1,"t":2.5,"x":1.54},{"s":1,"t":3,"x":1.698},{"s":1,"t":4,"x":2.001},{"s":1,"t":6,"x":2.476},{"s":1,"t":8,"x":2.843},{"s":1,"t":9,"x":3.01},{"s":1,"t":9.2,"x":3.121},{"s":1,"t":9.4,"x":3.27},{"s":1,"t":9.6,"x":3.389},{"s":1,"t":9.8,"x":3.403},{"s":1,"t":10,"x":3.145},
      {"s":2,"t":0,"x":0},{"s":2,"t":0.2,"x":0.521},{"s":2,"t":0.4,"x":0.822},{"s":2,"t":0.6,"x":0.992},{"s":2,"t":0.8,"x":1.079},{"s":2,"t":1,"x":1.126},{"s":2,"t":1.5,"x":1.246},{"s":2,"t":2,"x":1.374},{"s":2,"t":2.5,"x":1.535},{"s":2,"t":3,"x":1.698},{"s":2,"t":4,"x":2.001},{"s":2,"t":6,"x":2.476},{"s":2,"t":8,"x":2.843},{"s":2,"t":9,"x":2.993},{"s":2,"t":9.2,"x":2.956},{"s":2,"t":9.4,"x":2.885},{"s":2,"t":9.6,"x":2.839},{"s":2,"t":9.8,"x":2.88},{"s":2,"t":10,"x":3.145},
      {"s":3,"t":0,"x":0},{"s":3,"t":0.2,"x":0.451},{"s":3,"t":0.4,"x":0.725},{"s":3,"t":0.6,"x":0.892},{"s":3,"t":0.8,"x":0.991},{"s":3,"t":1,"x":1.056},{"s":3,"t":1.5,"x":1.211},{"s":3,"t":2,"x":1.362},{"s":3,"t":2.5,"x":1.532},{"s":3,"t":3,"x":1.698},{"s":3,"t":4,"x":2.001},{"s":3,"t":6,"x":2.476},{"s":3,"t":8,"x":2.843},{"s":3,"t":9,"x":3.004},{"s":3,"t":9.2,"x":3.061},{"s":3,"t":9.4,"x":3.13},{"s":3,"t":9.6,"x":3.189},{"s":3,"t":9.8,"x":3.213},{"s":3,"t":10,"x":3.145},
      {"s":4,"t":0,"x":0},{"s":4,"t":0.2,"x":0.402},{"s":4,"t":0.4,"x":0.657},{"s":4,"t":0.6,"x":0.822},{"s":4,"t":0.8,"x":0.929},{"s":4,"t":1,"x":1.007},{"s":4,"t":1.5,"x":1.186},{"s":4,"t":2,"x":1.354},{"s":4,"t":2.5,"x":1.529},{"s":4,"t":3,"x":1.698},{"s":4,"t":4,"x":2.001},{"s":4,"t":6,"x":2.476},{"s":4,"t":8,"x":2.843},{"s":4,"t":9,"x":2.997},{"s":4,"t":9.2,"x":2.986},{"s":4,"t":9.4,"x":2.955},{"s":4,"t":9.6,"x":2.939},{"s":4,"t":9.8,"x":2.975},{"s":4,"t":10,"x":3.145},
      {"s":5,"t":0,"x":0},{"s":5,"t":0.2,"x":0.346},{"s":5,"t":0.4,"x":0.579},{"s":5,"t":0.6,"x":0.742},{"s":5,"t":0.8,"x":0.859},{"s":5,"t":1,"x":0.951},{"s":5,"t":1.5,"x":1.158},{"s":5,"t":2,"x":1.344},{"s":5,"t":2.5,"x":1.527},{"s":5,"t":3,"x":1.698},{"s":5,"t":4,"x":2.001},{"s":5,"t":6,"x":2.476},{"s":5,"t":8,"x":2.843},{"s":5,"t":9,"x":3.007},{"s":5,"t":9.2,"x":3.091},{"s":5,"t":9.4,"x":3.2},{"s":5,"t":9.6,"x":3.289},{"s":5,"t":9.8,"x":3.308},{"s":5,"t":10,"x":3.145},
      {"s":6,"t":0,"x":0},{"s":6,"t":0.2,"x":0.29},{"s":6,"t":0.4,"x":0.501},{"s":6,"t":0.6,"x":0.662},{"s":6,"t":0.8,"x":0.789},{"s":6,"t":1,"x":0.895},{"s":6,"t":1.5,"x":1.13},{"s":6,"t":2,"x":1.334},{"s":6,"t":2.5,"x":1.525},{"s":6,"t":3,"x":1.698},{"s":6,"t":4,"x":2.001},{"s":6,"t":6,"x":2.476},{"s":6,"t":8,"x":2.843},{"s":6,"t":9,"x":2.991},{"s":6,"t":9.2,"x":2.932},{"s":6,"t":9.4,"x":2.829},{"s":6,"t":9.6,"x":2.759},{"s":6,"t":9.8,"x":2.804},{"s":6,"t":10,"x":3.145},
      {"s":7,"t":0,"x":0},{"s":7,"t":0.2,"x":0.241},{"s":7,"t":0.4,"x":0.434},{"s":7,"t":0.6,"x":0.592},{"s":7,"t":0.8,"x":0.727},{"s":7,"t":1,"x":0.846},{"s":7,"t":1.5,"x":1.106},{"s":7,"t":2,"x":1.326},{"s":7,"t":2.5,"x":1.523},{"s":7,"t":3,"x":1.698},{"s":7,"t":4,"x":2.001},{"s":7,"t":6,"x":2.476},{"s":7,"t":8,"x":2.843},{"s":7,"t":9,"x":3.001},{"s":7,"t":9.2,"x":3.031},{"s":7,"t":9.4,"x":3.06},{"s":7,"t":9.6,"x":3.089},{"s":7,"t":9.8,"x":3.118},{"s":7,"t":10,"x":3.145},
      {"s":8,"t":0,"x":0},{"s":8,"t":0.2,"x":0.171},{"s":8,"t":0.4,"x":0.336},{"s":8,"t":0.6,"x":0.492},{"s":8,"t":0.8,"x":0.639},{"s":8,"t":1,"x":0.776},{"s":8,"t":1.5,"x":1.071},{"s":8,"t":2,"x":1.314},{"s":8,"t":2.5,"x":1.52},{"s":8,"t":3,"x":1.698},{"s":8,"t":4,"x":2.001},{"s":8,"t":6,"x":2.476},{"s":8,"t":8,"x":2.843},{"s":8,"t":9,"x":2.999},{"s":8,"t":9.2,"x":3.007},{"s":8,"t":9.4,"x":3.004},{"s":8,"t":9.6,"x":3.009},{"s":8,"t":9.8,"x":3.042},{"s":8,"t":10,"x":3.145},
      {"s":9,"t":0,"x":0},{"s":9,"t":0.2,"x":0.066},{"s":9,"t":0.4,"x":0.191},{"s":9,"t":0.6,"x":0.342},{"s":9,"t":0.8,"x":0.507},{"s":9,"t":1,"x":0.671},{"s":9,"t":1.5,"x":1.018},{"s":9,"t":2,"x":1.296},{"s":9,"t":2.5,"x":1.515},{"s":9,"t":3,"x":1.698},{"s":9,"t":4,"x":2.001},{"s":9,"t":6,"x":2.476},{"s":9,"t":8,"x":2.843},{"s":9,"t":9,"x":3.006},{"s":9,"t":9.2,"x":3.076},{"s":9,"t":9.4,"x":3.165},{"s":9,"t":9.6,"x":3.239},{"s":9,"t":9.8,"x":3.261},{"s":9,"t":10,"x":3.145},
      {"s":10,"t":0,"x":0},{"s":10,"t":0.2,"x":-0.179},{"s":10,"t":0.4,"x":-0.149},{"s":10,"t":0.6,"x":-0.008},{"s":10,"t":0.8,"x":0.199},{"s":10,"t":1,"x":0.426},{"s":10,"t":1.5,"x":0.896},{"s":10,"t":2,"x":1.254},{"s":10,"t":2.5,"x":1.505},{"s":10,"t":3,"x":1.698},{"s":10,"t":4,"x":2.001},{"s":10,"t":6,"x":2.476},{"s":10,"t":8,"x":2.843},{"s":10,"t":9,"x":2.995},{"s":10,"t":9.2,"x":2.971},{"s":10,"t":9.4,"x":2.92},{"s":10,"t":9.6,"x":2.889},{"s":10,"t":9.8,"x":2.928},{"s":10,"t":10,"x":3.145}
    ],
    "E": [
      {"s":1,"t":0,"x":0},{"s":1,"t":0.2,"x":0.494},{"s":1,"t":0.4,"x":0.705},{"s":1,"t":0.6,"x":0.814},{"s":1,"t":0.8,"x":0.891},{"s":1,"t":1,"x":0.965},{"s":1,"t":1.5,"x":1.152},{"s":1,"t":2,"x":1.339},{"s":1,"t":3,"x":1.698},{"s":1,"t":4,"x":2.001},{"s":1,"t":6,"x":2.476},{"s":1,"t":8,"x":2.843},{"s":1,"t":9.2,"x":3.055},{"s":1,"t":9.6,"x":3.185},{"s":1,"t":9.8,"x":3.238},{"s":1,"t":10,"x":3.145},
      {"s":2,"t":0,"x":0},{"s":2,"t":0.2,"x":0.386},{"s":2,"t":0.4,"x":0.585},{"s":2,"t":0.6,"x":0.712},{"s":2,"t":0.8,"x":0.813},{"s":2,"t":1,"x":0.907},{"s":2,"t":1.5,"x":1.128},{"s":2,"t":2,"x":1.332},{"s":2,"t":3,"x":1.698},{"s":2,"t":4,"x":2.001},{"s":2,"t":6,"x":2.476},{"s":2,"t":8,"x":2.843},{"s":2,"t":9.2,"x":3.001},{"s":2,"t":9.6,"x":2.969},{"s":2,"t":9.8,"x":2.968},{"s":2,"t":10,"x":3.145},
      {"s":3,"t":0,"x":0},{"s":3,"t":0.2,"x":0.278},{"s":3,"t":0.4,"x":0.465},{"s":3,"t":0.6,"x":0.61},{"s":3,"t":0.8,"x":0.735},{"s":3,"t":1,"x":0.849},{"s":3,"t":1.5,"x":1.104},{"s":3,"t":2,"x":1.325},{"s":3,"t":3,"x":1.698},{"s":3,"t":4,"x":2.001},{"s":3,"t":6,"x":2.476},{"s":3,"t":8,"x":2.843},{"s":3,"t":9.2,"x":3.041},{"s":3,"t":9.6,"x":3.129},{"s":3,"t":9.8,"x":3.168},{"s":3,"t":10,"x":3.145},
      {"s":4,"t":0,"x":0},{"s":4,"t":0.2,"x":0.206},{"s":4,"t":0.4,"x":0.385},{"s":4,"t":0.6,"x":0.542},{"s":4,"t":0.8,"x":0.683},{"s":4,"t":1,"x":0.811},{"s":4,"t":1.5,"x":1.088},{"s":4,"t":2,"x":1.32},{"s":4,"t":3,"x":1.698},{"s":4,"t":4,"x":2.001},{"s":4,"t":6,"x":2.476},{"s":4,"t":8,"x":2.843},{"s":4,"t":9.2,"x":3.021},{"s":4,"t":9.6,"x":3.049},{"s":4,"t":9.8,"x":3.068},{"s":4,"t":10,"x":3.145},
      {"s":5,"t":0,"x":0},{"s":5,"t":0.2,"x":0.098},{"s":5,"t":0.4,"x":0.265},{"s":5,"t":0.6,"x":0.44},{"s":5,"t":0.8,"x":0.605},{"s":5,"t":1,"x":0.753},{"s":5,"t":1.5,"x":1.064},{"s":5,"t":2,"x":1.313},{"s":5,"t":3,"x":1.698},{"s":5,"t":4,"x":2.001},{"s":5,"t":6,"x":2.476},{"s":5,"t":8,"x":2.843},{"s":5,"t":9.2,"x":3.051},{"s":5,"t":9.6,"x":3.169},{"s":5,"t":9.8,"x":3.218},{"s":5,"t":10,"x":3.145},
      {"s":6,"t":0,"x":0},{"s":6,"t":0.2,"x":-0.154},{"s":6,"t":0.4,"x":-0.015},{"s":6,"t":0.6,"x":0.202},{"s":6,"t":0.8,"x":0.423},{"s":6,"t":1,"x":0.619},{"s":6,"t":1.5,"x":1.008},{"s":6,"t":2,"x":1.296},{"s":6,"t":3,"x":1.698},{"s":6,"t":4,"x":2.001},{"s":6,"t":6,"x":2.476},{"s":6,"t":8,"x":2.843},{"s":6,"t":9.2,"x":3.011},{"s":6,"t":9.6,"x":3.009},{"s":6,"t":9.8,"x":3.018},{"s":6,"t":10,"x":3.145}
    ],
    "F": [
      {"s":1,"t":0,"x":0},{"s":1,"t":0.2,"x":0.35},{"s":1,"t":0.4,"x":0.565},{"s":1,"t":0.6,"x":0.722},{"s":1,"t":0.8,"x":0.854},{"s":1,"t":1,"x":0.964},{"s":1,"t":1.5,"x":1.196},{"s":1,"t":2,"x":1.392},{"s":1,"t":3,"x":1.725},{"s":1,"t":4,"x":2.001},{"s":1,"t":6,"x":2.476},{"s":1,"t":8,"x":2.843},{"s":1,"t":10,"x":3.145},
      {"s":2,"t":0,"x":0},{"s":2,"t":0.2,"x":0.326},{"s":2,"t":0.4,"x":0.535},{"s":2,"t":0.6,"x":0.692},{"s":2,"t":0.8,"x":0.826},{"s":2,"t":1,"x":0.939},{"s":2,"t":1.5,"x":1.178},{"s":2,"t":2,"x":1.38},{"s":2,"t":3,"x":1.721},{"s":2,"t":4,"x":2.001},{"s":2,"t":6,"x":2.476},{"s":2,"t":8,"x":2.843},{"s":2,"t":10,"x":3.145},
      {"s":3,"t":0,"x":0},{"s":3,"t":0.2,"x":0.302},{"s":3,"t":0.4,"x":0.505},{"s":3,"t":0.6,"x":0.662},{"s":3,"t":0.8,"x":0.797},{"s":3,"t":1,"x":0.913},{"s":3,"t":1.5,"x":1.16},{"s":3,"t":2,"x":1.368},{"s":3,"t":3,"x":1.716},{"s":3,"t":4,"x":2.001},{"s":3,"t":6,"x":2.476},{"s":3,"t":8,"x":2.843},{"s":3,"t":10,"x":3.145},
      {"s":4,"t":0,"x":0},{"s":4,"t":0.2,"x":0.278},{"s":4,"t":0.4,"x":0.475},{"s":4,"t":0.6,"x":0.632},{"s":4,"t":0.8,"x":0.769},{"s":4,"t":1,"x":0.888},{"s":4,"t":1.5,"x":1.142},{"s":4,"t":2,"x":1.356},{"s":4,"t":3,"x":1.712},{"s":4,"t":4,"x":2.001},{"s":4,"t":6,"x":2.476},{"s":4,"t":8,"x":2.843},{"s":4,"t":10,"x":3.145},
      {"s":5,"t":0,"x":0},{"s":5,"t":0.2,"x":0.254},{"s":5,"t":0.4,"x":0.445},{"s":5,"t":0.6,"x":0.602},{"s":5,"t":0.8,"x":0.74},{"s":5,"t":1,"x":0.862},{"s":5,"t":1.5,"x":1.124},{"s":5,"t":2,"x":1.344},{"s":5,"t":3,"x":1.707},{"s":5,"t":4,"x":2.001},{"s":5,"t":6,"x":2.476},{"s":5,"t":8,"x":2.843},{"s":5,"t":10,"x":3.145}
    ]
  },
  "columns": 2,
  "bounds": "flush",
  "spacing": {"row": 112, "column": 61},
  "concat": [
    {
      "title": "Gaussian, n = 12", "width": 507, "height": 280,
      "layer": [
        {"data": {"name": "ref"}, "mark": {"type": "line", "strokeWidth": 3, "strokeDash": [11, 5]},
         "encoding": {
           "x": {"field": "t", "type": "quantitative", "scale": {"domain": [0, 10], "nice": false, "zero": false}, "axis": {"values": [0, 2, 4, 6, 8, 10], "title": "t"}},
           "y": {"field": "x", "type": "quantitative", "scale": {"domain": [-4.12, 4.6], "nice": false, "zero": false}, "axis": {"values": [-4, -2, 0, 2, 4], "title": "x(t)"}},
           "color": {"field": "c", "type": "nominal", "scale": {"domain": ["b", "g"], "range": ["#0000ff", "#008000"]}, "legend": null}}},
        {"data": {"name": "A"}, "mark": {"type": "line", "stroke": "#808080", "strokeWidth": 3, "opacity": 0.3},
         "encoding": {
           "x": {"field": "t", "type": "quantitative", "scale": {"domain": [0, 10], "nice": false, "zero": false}},
           "y": {"field": "x", "type": "quantitative", "scale": {"domain": [-4.12, 4.6], "nice": false, "zero": false}},
           "detail": {"field": "s", "type": "nominal"}}}
      ]
    },
    {
      "title": "Cauchy, n = 12", "width": 507, "height": 280,
      "layer": [
        {"data": {"name": "ref"}, "mark": {"type": "line", "strokeWidth": 3, "strokeDash": [11, 5]},
         "encoding": {
           "x": {"field": "t", "type": "quantitative", "scale": {"domain": [0, 10], "nice": false, "zero": false}, "axis": {"values": [0, 2, 4, 6, 8, 10], "title": "t"}},
           "y": {"field": "x", "type": "quantitative", "scale": {"domain": [-4.12, 4.6], "nice": false, "zero": false}, "axis": {"values": [-4, -2, 0, 2, 4], "labels": false, "title": "x(t)", "titlePadding": 1}},
           "color": {"field": "c", "type": "nominal", "scale": {"domain": ["b", "g"], "range": ["#0000ff", "#008000"]}, "legend": null}}},
        {"data": {"name": "B"}, "mark": {"type": "line", "stroke": "#808080", "strokeWidth": 3, "opacity": 0.17},
         "encoding": {
           "x": {"field": "t", "type": "quantitative", "scale": {"domain": [0, 10], "nice": false, "zero": false}},
           "y": {"field": "x", "type": "quantitative", "scale": {"domain": [-4.12, 4.6], "nice": false, "zero": false}},
           "detail": {"field": "s", "type": "nominal"}}}
      ]
    },
    {
      "title": "Gaussian, n = 17", "width": 507, "height": 280,
      "layer": [
        {"data": {"name": "ref"}, "mark": {"type": "line", "strokeWidth": 3, "strokeDash": [11, 5]},
         "encoding": {
           "x": {"field": "t", "type": "quantitative", "scale": {"domain": [0, 10], "nice": false, "zero": false}, "axis": {"values": [0, 2, 4, 6, 8, 10], "title": "t"}},
           "y": {"field": "x", "type": "quantitative", "scale": {"domain": [-4.12, 4.6], "nice": false, "zero": false}, "axis": {"values": [-4, -2, 0, 2, 4], "title": "x(t)"}},
           "color": {"field": "c", "type": "nominal", "scale": {"domain": ["b", "g"], "range": ["#0000ff", "#008000"]}, "legend": null}}},
        {"data": {"name": "C"}, "mark": {"type": "line", "stroke": "#808080", "strokeWidth": 3, "opacity": 0.4},
         "encoding": {
           "x": {"field": "t", "type": "quantitative", "scale": {"domain": [0, 10], "nice": false, "zero": false}},
           "y": {"field": "x", "type": "quantitative", "scale": {"domain": [-4.12, 4.6], "nice": false, "zero": false}},
           "detail": {"field": "s", "type": "nominal"}}}
      ]
    },
    {
      "title": "Cauchy, n = 17", "width": 507, "height": 280,
      "layer": [
        {"data": {"name": "ref"}, "mark": {"type": "line", "strokeWidth": 3, "strokeDash": [11, 5]},
         "encoding": {
           "x": {"field": "t", "type": "quantitative", "scale": {"domain": [0, 10], "nice": false, "zero": false}, "axis": {"values": [0, 2, 4, 6, 8, 10], "title": "t"}},
           "y": {"field": "x", "type": "quantitative", "scale": {"domain": [-4.12, 4.6], "nice": false, "zero": false}, "axis": {"values": [-4, -2, 0, 2, 4], "labels": false, "title": "x(t)", "titlePadding": 1}},
           "color": {"field": "c", "type": "nominal", "scale": {"domain": ["b", "g"], "range": ["#0000ff", "#008000"]}, "legend": null}}},
        {"data": {"name": "D"}, "mark": {"type": "line", "stroke": "#808080", "strokeWidth": 3, "opacity": 0.38},
         "encoding": {
           "x": {"field": "t", "type": "quantitative", "scale": {"domain": [0, 10], "nice": false, "zero": false}},
           "y": {"field": "x", "type": "quantitative", "scale": {"domain": [-4.12, 4.6], "nice": false, "zero": false}},
           "detail": {"field": "s", "type": "nominal"}}}
      ]
    },
    {
      "title": "Gaussian, n = 22", "width": 507, "height": 280,
      "layer": [
        {"data": {"name": "ref"}, "mark": {"type": "line", "strokeWidth": 3, "strokeDash": [11, 5]},
         "encoding": {
           "x": {"field": "t", "type": "quantitative", "scale": {"domain": [0, 10], "nice": false, "zero": false}, "axis": {"values": [0, 2, 4, 6, 8, 10], "title": "t"}},
           "y": {"field": "x", "type": "quantitative", "scale": {"domain": [-4.12, 4.6], "nice": false, "zero": false}, "axis": {"values": [-4, -2, 0, 2, 4], "title": "x(t)"}},
           "color": {"field": "c", "type": "nominal", "scale": {"domain": ["b", "g"], "range": ["#0000ff", "#008000"]}, "legend": null}}},
        {"data": {"name": "E"}, "mark": {"type": "line", "stroke": "#808080", "strokeWidth": 3, "opacity": 0.45},
         "encoding": {
           "x": {"field": "t", "type": "quantitative", "scale": {"domain": [0, 10], "nice": false, "zero": false}},
           "y": {"field": "x", "type": "quantitative", "scale": {"domain": [-4.12, 4.6], "nice": false, "zero": false}},
           "detail": {"field": "s", "type": "nominal"}}}
      ]
    },
    {
      "title": "Cauchy, n = 22", "width": 507, "height": 280,
      "layer": [
        {"data": {"name": "ref"}, "mark": {"type": "line", "strokeWidth": 3, "strokeDash": [11, 5]},
         "encoding": {
           "x": {"field": "t", "type": "quantitative", "scale": {"domain": [0, 10], "nice": false, "zero": false}, "axis": {"values": [0, 2, 4, 6, 8, 10], "title": "t"}},
           "y": {"field": "x", "type": "quantitative", "scale": {"domain": [-4.12, 4.6], "nice": false, "zero": false}, "axis": {"values": [-4, -2, 0, 2, 4], "labels": false, "title": "x(t)", "titlePadding": 1}},
           "color": {"field": "c", "type": "nominal", "scale": {"domain": ["b", "g"], "range": ["#0000ff", "#008000"]}, "legend": null}}},
        {"data": {"name": "F"}, "mark": {"type": "line", "stroke": "#808080", "strokeWidth": 3, "opacity": 0.5},
         "encoding": {
           "x": {"field": "t", "type": "quantitative", "scale": {"domain": [0, 10], "nice": false, "zero": false}},
           "y": {"field": "x", "type": "quantitative", "scale": {"domain": [-4.12, 4.6], "nice": false, "zero": false}},
           "detail": {"field": "s", "type": "nominal"}}}
      ]
    }
  ]
}
